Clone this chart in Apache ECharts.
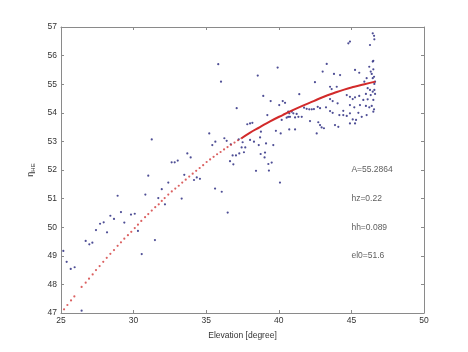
<!DOCTYPE html>
<html>
<head>
<meta charset="utf-8">
<script src="https://cdn.jsdelivr.net/npm/echarts@6/dist/echarts.min.js"></script>
<style>
  html, body { margin: 0; padding: 0; background: #fff; }
  #chart { width: 468px; height: 352px; }
</style>
</head>
<body>
<div id="chart"></div>
<script>
// measured points (blue)
const blueX = [
  25.16, 25.39, 25.67, 25.94, 26.42, 26.70, 26.95, 27.16, 27.41, 27.69,
  27.94, 28.17, 28.40, 28.65, 28.90, 29.13, 29.36, 29.82, 30.08, 30.30,
  30.56, 30.81, 31.01, 31.25, 31.47, 31.70, 31.94, 32.16, 32.39, 32.62,
  32.83, 33.04, 33.31, 33.49, 33.70, 33.93, 34.16, 34.35, 34.57, 35.21,
  35.42, 35.61, 35.63, 35.83, 36.02, 36.07, 36.25, 36.41, 36.48, 36.64,
  36.69, 36.82, 36.87, 37.05, 37.10, 37.24, 37.28, 37.44, 37.51, 37.60,
  37.69, 37.83, 38.02, 38.02, 38.18, 38.29, 38.43, 38.55, 38.62, 38.71,
  38.75, 38.77, 38.93, 39.02, 39.05, 39.12, 39.21, 39.28, 39.32, 39.44,
  39.51, 39.62, 39.80, 39.92, 40.03, 40.08, 40.13, 40.20, 40.27, 40.43,
  40.54, 40.65, 40.65, 40.72, 40.72, 40.77, 40.89, 41.00, 41.12, 41.12,
  41.23, 41.35, 41.41, 41.58, 41.74, 41.92, 42.10, 42.15, 42.27, 42.42,
  42.49, 42.61, 42.68, 42.72, 42.84, 42.84, 42.95, 43.02, 43.11, 43.25,
  43.30, 43.53, 43.53, 43.53, 43.64, 43.71, 43.71, 43.80, 43.87, 43.99,
  44.05, 44.10, 44.17, 44.22, 44.44, 44.44, 44.68, 44.68, 44.79, 44.90,
  44.90, 44.90, 44.90, 44.90, 45.09, 45.09, 45.20, 45.25, 45.25, 45.25,
  45.32, 45.48, 45.54, 45.54, 45.59, 45.71, 45.82, 45.89, 46.00, 46.00,
  46.05, 46.05, 46.12, 46.12, 46.23, 46.23, 46.28, 46.28, 46.33, 46.33,
  46.40, 46.40, 46.47, 46.47, 46.47, 46.47, 46.51, 46.51, 46.51, 46.51,
  46.56, 46.58, 46.56, 46.56, 46.58, 46.58, 46.63, 46.63
];
const blueY = [
  49.17, 48.79, 48.54, 48.60, 47.08, 49.52, 49.40, 49.46, 49.90, 50.12,
  50.17, 49.82, 50.40, 50.29, 51.10, 50.53, 50.16, 50.44, 50.47, 49.87,
  49.06, 51.14, 51.80, 53.07, 49.55, 51.02, 51.33, 50.80, 51.56, 52.27,
  52.27, 52.33, 51.00, 51.83, 52.58, 52.44, 51.65, 51.74, 51.69, 53.28,
  52.87, 51.35, 52.99, 55.70, 55.09, 51.24, 53.11, 53.02, 50.51, 52.31,
  52.90, 52.51, 52.20, 52.51, 54.16, 53.07, 52.58, 52.79, 52.97, 52.62,
  52.79, 53.60, 53.63, 53.05, 53.65, 52.99, 51.97, 55.30, 52.87, 53.14,
  52.56, 53.34, 54.59, 52.44, 52.61, 52.93, 53.92, 52.21, 51.98, 54.41,
  52.26, 52.87, 53.37, 55.58, 54.27, 51.56, 53.28, 53.75, 54.41, 54.35,
  53.83, 54.04, 53.86, 53.42, 53.98, 53.86, 54.04, 53.98, 53.42, 53.84,
  53.96, 53.86, 54.65, 53.86, 54.18, 54.14, 54.12, 53.71, 54.12, 54.13,
  55.07, 53.28, 54.21, 53.67, 54.16, 53.57, 53.49, 55.44, 53.46, 54.19,
  55.71, 54.06, 54.48, 54.91, 54.83, 54.41, 54.00, 55.36, 53.57, 54.91,
  54.33, 53.51, 53.92, 55.32, 54.07, 53.92, 54.62, 53.89, 56.43, 56.49,
  54.56, 54.27, 53.98, 53.63, 54.48, 53.77, 54.19, 54.54, 55.50, 53.63,
  53.75, 54.00, 55.40, 54.59, 54.27, 53.86, 54.45, 55.09, 54.66, 54.24,
  55.21, 53.92, 54.86, 54.47, 55.61, 54.19, 56.37, 54.80, 55.44, 54.62,
  55.36, 54.24, 55.79, 55.21, 54.74, 56.78, 55.52, 54.45, 54.04, 55.82,
  56.69, 56.57, 55.26, 54.12, 54.80, 55.01, 55.09, 54.66
];

// fitted model, sparse dotted part
const redDotX = [
  25.21, 25.44, 25.69, 25.92, 26.42, 26.70, 26.93, 27.18, 27.41, 27.66,
  27.91, 28.15, 28.40, 28.65, 28.90, 29.13, 29.36, 29.61, 29.84, 30.08,
  30.30, 30.53, 30.79, 31.01, 31.25, 31.49, 31.73, 31.94, 32.14, 32.39,
  32.63, 32.87, 33.11, 33.35, 33.59, 33.83, 34.07, 34.31, 34.55, 34.79,
  35.03, 35.27, 35.51, 35.75, 35.99, 36.23, 36.47, 36.71, 36.95, 37.19,
  37.43
];
const redDotY = [
  47.13, 47.28, 47.44, 47.58, 47.91, 48.06, 48.20, 48.35, 48.50, 48.64,
  48.79, 48.93, 49.07, 49.20, 49.35, 49.47, 49.60, 49.72, 49.84, 49.97,
  50.09, 50.22, 50.35, 50.46, 50.58, 50.70, 50.80, 50.92, 51.02, 51.14,
  51.25, 51.35, 51.45, 51.56, 51.66, 51.77, 51.87, 51.97, 52.07, 52.17,
  52.28, 52.37, 52.46, 52.55, 52.63, 52.72, 52.80, 52.88, 52.96, 53.04,
  53.11
];
// fitted model, dense part (reads as a solid line)
const redLineX = [37.43, 38.0, 38.7, 39.4, 40.3, 41.0, 41.7, 42.4, 43.1, 43.8, 44.5, 45.2, 45.9, 46.65];
const redLineY = [53.11, 53.30, 53.50, 53.70, 53.93, 54.10, 54.26, 54.41, 54.56, 54.69, 54.81, 54.91, 55.00, 55.09];

const noteText = ['A=55.2864', 'hz=0.22', 'hh=0.089', 'el0=51.6'];
const noteX = [45, 45, 45, 45];
const noteY = [52, 51, 50, 49];

const FONT = '"Liberation Sans", Arial, sans-serif';
const axisGray = '#8a8a8a';
const textColor = '#333';

const chart = echarts.init(document.getElementById('chart'));

const baseX = {
  type: 'value', min: 25, max: 50, interval: 5,
  axisLine: { show: true, onZero: false, lineStyle: { color: axisGray, width: 1 } },
  axisTick: { show: true, inside: true, length: 3, lineStyle: { color: axisGray } },
  splitLine: { show: false }
};
const baseY = {
  type: 'value', min: 47, max: 57, interval: 1,
  axisLine: { show: true, onZero: false, lineStyle: { color: axisGray, width: 1 } },
  axisTick: { show: true, inside: true, length: 3, lineStyle: { color: axisGray } },
  splitLine: { show: false }
};

chart.setOption({
  animation: false,
  backgroundColor: '#fff',
  textStyle: { fontFamily: FONT },
  grid: { left: 61, right: 44, top: 27, bottom: 39, containLabel: false },
  xAxis: [
    Object.assign({}, baseX, {
      position: 'bottom',
      name: 'Elevation [degree]',
      nameLocation: 'middle',
      nameGap: 18,
      nameTextStyle: { fontSize: 8.5, color: textColor, fontFamily: FONT },
      axisLabel: { fontSize: 8.5, color: textColor, margin: 3, fontFamily: FONT }
    }),
    Object.assign({}, baseX, { position: 'top', axisLabel: { show: false } })
  ],
  yAxis: [
    Object.assign({}, baseY, {
      position: 'left',
      name: '{e|η}{s|HE}',
      nameLocation: 'middle',
      nameGap: 18,
      nameRotate: 90,
      nameTextStyle: {
        color: textColor,
        fontFamily: FONT,
        rich: {
          e: { fontSize: 9, color: textColor, lineHeight: 12 },
          s: { fontSize: 6, color: textColor, verticalAlign: 'bottom', lineHeight: 12, padding: [5, 0, 0, 0] }
        }
      },
      axisLabel: { fontSize: 8.5, color: textColor, margin: 4, fontFamily: FONT }
    }),
    Object.assign({}, baseY, { position: 'right', axisLabel: { show: false } })
  ],
  series: [
    {
      type: 'scatter',
      symbol: 'circle',
      symbolSize: 2.2,
      itemStyle: { color: '#22227a' },
      data: blueX.map((x, i) => [x, blueY[i]]),
      z: 3
    },
    {
      type: 'scatter',
      symbol: 'circle',
      symbolSize: 2.2,
      itemStyle: { color: '#d23a3a' },
      data: redDotX.map((x, i) => [x, redDotY[i]]),
      z: 4
    },
    {
      type: 'line',
      smooth: true,
      showSymbol: false,
      lineStyle: { color: '#d22a2a', width: 2 },
      data: redLineX.map((x, i) => [x, redLineY[i]]),
      z: 4
    },
    {
      type: 'scatter',
      symbolSize: 0,
      silent: true,
      data: noteX.map((x, i) => [x, noteY[i], noteText[i]]),
      label: {
        show: true,
        position: 'right',
        distance: 0,
        formatter: (p) => p.data[2],
        fontSize: 8.5,
        color: textColor,
        fontFamily: FONT
      }
    }
  ]
});
</script>
</body>
</html>
